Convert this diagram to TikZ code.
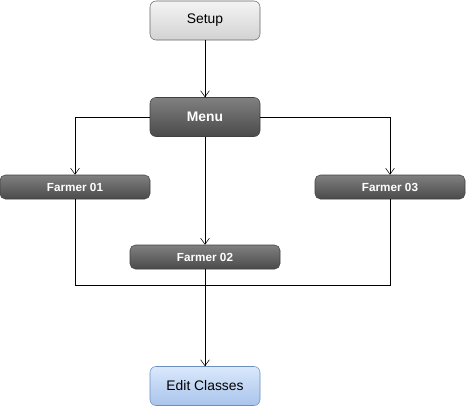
\documentclass[tikz,border=0pt]{standalone}
\usepackage{fontspec}
\setmainfont{Liberation Sans}
\usepackage{xcolor}
\usetikzlibrary{arrows.meta}

\definecolor{lightTop}{HTML}{F4F4F4}
\definecolor{lightBot}{HTML}{D2D2D2}
\definecolor{darkTop}{HTML}{808080}
\definecolor{darkBot}{HTML}{4A4A4A}
\definecolor{blueTop}{HTML}{DAE8FC}
\definecolor{blueBot}{HTML}{A9C4EB}
\definecolor{blueLine}{HTML}{6C8EBF}

\begin{document}
\begin{tikzpicture}[x=0.75pt,y=-0.75pt,
    >={Straight Barb[length=4.5pt,width=6.5pt]},
    box/.style={rounded corners=4.5pt,minimum width=82.5pt,minimum height=29.25pt,
      inner sep=0pt,font=\fontsize{10.4}{12}\selectfont},
    lightbox/.style={box,draw=black!60,top color=lightTop,bottom color=lightBot},
    darkbox/.style={box,draw=black!75,top color=darkTop,bottom color=darkBot,
      text=white,font=\fontsize{10.4}{12}\selectfont\bfseries},
    farmer/.style={darkbox,minimum width=112.5pt,minimum height=18pt,
      rounded corners=4pt,font=\fontsize{8.8}{10}\selectfont\bfseries},
    bluebox/.style={box,draw=blueLine,top color=blueTop,bottom color=blueBot}]
      \useasboundingbox (0, 0) rectangle (466, 408);
      \node[lightbox] (setup) at (205, 20.5) {Setup};
      \node[darkbox] (menu) at (205, 117) {Menu};
      \node[farmer] (farmerA) at (75, 187) {Farmer 01};
      \node[farmer] (farmerB) at (205, 257) {Farmer 02};
      \node[farmer] (farmerC) at (390, 187) {Farmer 03};
      \node[bluebox] (edit) at (205, 386) {Edit Classes};
      \coordinate (merge) at (205, 285);
      \draw[->] (setup) -- (menu);
      \draw[->] (menu.west) -| (farmerA);
      \draw[->] (menu.east) -| (farmerC);
      \draw[->] (menu) -- (farmerB);
      \draw (farmerA.south) |- (merge) -| (farmerC.south);
      \draw[->] (farmerB) -- (edit);
    \end{tikzpicture}
\end{document}
